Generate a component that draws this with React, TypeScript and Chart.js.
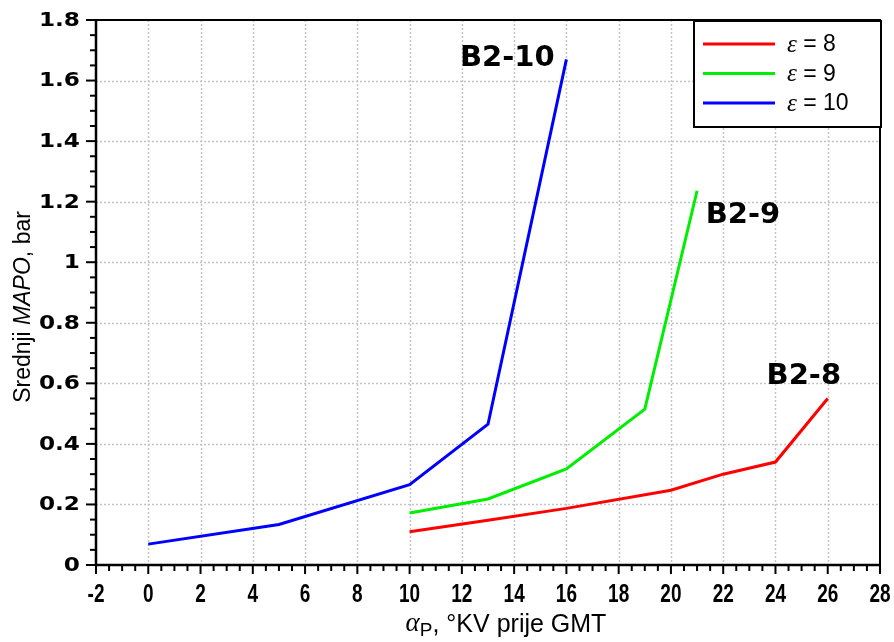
import React, { useEffect, useRef } from "react";
import { Chart, registerables } from "chart.js";

Chart.register(...registerables);

// ---- data ----
const eps8X = [10, 13, 16, 20, 22, 24, 26];
const eps8Y = [0.11, 0.148, 0.187, 0.247, 0.3, 0.34, 0.55];
const eps9X = [10, 13, 16, 19, 21];
const eps9Y = [0.172, 0.218, 0.317, 0.515, 1.236];
const eps10X = [0, 5, 10, 13, 16];
const eps10Y = [0.069, 0.134, 0.265, 0.465, 1.67];

const seriesLabels = ["8", "9", "10"];
const seriesColors = ["#ff0000", "#00ee00", "#0000ff"];

const xTickMin = -2;
const xTickMax = 28;
const xTickStep = 2;
const yTickMin = 0;
const yTickMax = 1.8;
const yTickStep = 0.2;

const curveNames = ["B2-8", "B2-9", "B2-10"];
const curveNameX = [23.66, 21.33, 15.55];
const curveNameY = [0.624, 1.153, 1.674];
const curveNameAlign = ["left", "left", "right"];

const xTitleMain = "α";
const xTitleSub = "P";
const xTitleRest = ", °KV prije GMT";
const yTitleParts = ["Srednji ", "MAPO", ", bar"];

const toPts = (xs: number[], ys: number[]) => xs.map((x, i) => ({ x, y: ys[i] }));

const fmtX = (v: number) => String(Math.round(v));
const fmtY = (v: number) => String(Number(v.toFixed(1)));

const overlayPlugin = {
  id: "overlay",
  beforeDatasetsDraw(chart: any) {
    const { ctx, chartArea: a, scales } = chart;
    const xs = scales.x, ys = scales.y;
    ctx.save();
    ctx.strokeStyle = "#c4c4c4";
    ctx.lineWidth = 1.5;
    ctx.setLineDash([2, 2]);
    xs.ticks.forEach((t: any) => {
      if (t.value <= xTickMin || t.value >= xTickMax) return;
      const px = Math.round(xs.getPixelForValue(t.value)) + 0.5;
      ctx.beginPath();
      ctx.moveTo(px, a.top);
      ctx.lineTo(px, a.bottom);
      ctx.stroke();
    });
    ys.ticks.forEach((t: any) => {
      if (t.value <= yTickMin + 1e-9 || t.value >= yTickMax - 1e-9) return;
      const py = Math.round(ys.getPixelForValue(t.value)) + 0.5;
      ctx.beginPath();
      ctx.moveTo(a.left, py);
      ctx.lineTo(a.right, py);
      ctx.stroke();
    });
    ctx.restore();
  },
  afterDatasetsDraw(chart: any) {
    const { ctx, chartArea: a, scales } = chart;
    const xs = scales.x, ys = scales.y;
    ctx.save();
    ctx.setLineDash([]);
    // frame
    ctx.strokeStyle = "#000";
    ctx.lineWidth = 2;
    ctx.strokeRect(a.left, a.top, a.right - a.left, a.bottom - a.top);
    ctx.lineWidth = 2.5;
    ctx.beginPath();
    ctx.moveTo(a.left, a.top);
    ctx.lineTo(a.left, a.bottom);
    ctx.lineTo(a.right, a.bottom);
    ctx.stroke();
    // ticks x (major + 3 minor)
    ctx.lineWidth = 2;
    const xMinor = xTickStep / 4;
    for (let i = 0; i <= (xTickMax - xTickMin) / xMinor + 1e-6; i++) {
      const v = xTickMin + i * xMinor;
      const px = xs.getPixelForValue(v);
      const len = i % 4 === 0 ? 9 : 6;
      ctx.beginPath();
      ctx.moveTo(px, a.bottom);
      ctx.lineTo(px, a.bottom + len);
      ctx.stroke();
    }
    const yMinor = yTickStep / 4;
    for (let i = 0; i <= (yTickMax - yTickMin) / yMinor + 1e-6; i++) {
      const v = yTickMin + i * yMinor;
      const py = ys.getPixelForValue(v);
      const len = i % 4 === 0 ? 10 : 6;
      ctx.beginPath();
      ctx.moveTo(a.left, py);
      ctx.lineTo(a.left - len, py);
      ctx.stroke();
    }
    // x tick labels (condensed bold)
    ctx.fillStyle = "#000";
    ctx.textBaseline = "middle";
    ctx.textAlign = "center";
    ctx.font = "bold 25px 'Liberation Sans'";
    xs.ticks.forEach((t: any) => {
      const px = xs.getPixelForValue(t.value);
      ctx.save();
      ctx.translate(px, a.bottom + 30);
      ctx.scale(0.76, 1);
      ctx.fillText(fmtX(t.value), 0, 0);
      ctx.restore();
    });
    // y tick labels (wide bold)
    ctx.font = "bold 19px 'DejaVu Sans'";
    ctx.textAlign = "right";
    ys.ticks.forEach((t: any) => {
      const py = ys.getPixelForValue(t.value);
      ctx.save();
      ctx.translate(a.left - 16, py + 1);
      ctx.scale(1.22, 1);
      ctx.fillText(fmtY(t.value), 0, 0);
      ctx.restore();
    });
    // curve names
    ctx.fillStyle = "#000";
    ctx.font = "bold 29px 'DejaVu Sans'";
    ctx.textBaseline = "middle";
    curveNames.forEach((n, i) => {
      ctx.textAlign = curveNameAlign[i] as CanvasTextAlign;
      ctx.fillText(n, xs.getPixelForValue(curveNameX[i]), ys.getPixelForValue(curveNameY[i]));
    });
    // legend
    const lw = 187, lh = 106;
    const lx = a.right - lw + 1, ly = a.top + 1;
    ctx.fillStyle = "#fff";
    ctx.fillRect(lx, ly, lw, lh);
    ctx.strokeStyle = "#000";
    ctx.lineWidth = 2;
    ctx.strokeRect(lx, ly, lw, lh);
    chart.data.datasets.forEach((ds: any, i: number) => {
      const cy = ly + 23 + i * 29.5;
      ctx.strokeStyle = ds.borderColor;
      ctx.lineWidth = 3;
      ctx.beginPath();
      ctx.moveTo(lx + 9, cy);
      ctx.lineTo(lx + 81, cy);
      ctx.stroke();
      ctx.fillStyle = "#000";
      ctx.textAlign = "left";
      ctx.textBaseline = "middle";
      ctx.font = "italic 25px 'Liberation Serif'";
      ctx.fillText("ε", lx + 93, cy + 1);
      const w = ctx.measureText("ε").width;
      ctx.font = "23px 'Liberation Sans'";
      ctx.fillText(" = " + seriesLabels[i], lx + 93 + w, cy + 1);
    });
    // x title
    ctx.fillStyle = "#000";
    ctx.textBaseline = "alphabetic";
    ctx.textAlign = "left";
    const fMain = "italic 27px 'Liberation Serif'";
    const fSub = "19px 'Liberation Sans'";
    const fRest = "25px 'Liberation Sans'";
    ctx.font = fMain;
    const w1 = ctx.measureText(xTitleMain).width;
    ctx.font = fSub;
    const w2 = ctx.measureText(xTitleSub).width;
    ctx.font = fRest;
    const w3 = ctx.measureText(xTitleRest).width;
    const cx = 506;
    let tx = cx - (w1 + w2 + w3) / 2;
    const by = 632;
    ctx.font = fMain;
    ctx.fillText(xTitleMain, tx, by - 1);
    tx += w1;
    ctx.font = fSub;
    ctx.fillText(xTitleSub, tx, by + 4);
    tx += w2;
    ctx.font = fRest;
    ctx.fillText(xTitleRest, tx, by);
    // y title
    ctx.save();
    ctx.translate(30, 307);
    ctx.rotate(-Math.PI / 2);
    const fonts = ["23px 'Liberation Sans'", "italic 23px 'Liberation Sans'", "23px 'Liberation Sans'"];
    const widths = yTitleParts.map((p, i) => {
      ctx.font = fonts[i];
      return ctx.measureText(p).width;
    });
    let yx = -widths.reduce((s, v) => s + v, 0) / 2;
    yTitleParts.forEach((p, i) => {
      ctx.font = fonts[i];
      ctx.fillText(p, yx, 0);
      yx += widths[i];
    });
    ctx.restore();
    ctx.restore();
  },
};

const zeroPad = (s: any) => {
  s.paddingLeft = 0;
  s.paddingRight = 0;
  s.paddingTop = 0;
  s.paddingBottom = 0;
};

export default function App() {
  const ref = useRef<HTMLCanvasElement>(null);
  useEffect(() => {
    document.body.style.margin = "0";
    const chart = new Chart(ref.current!, {
      type: "line",
      data: {
        datasets: [
          { label: "ε = 8", data: toPts(eps8X, eps8Y), borderColor: seriesColors[0] },
          { label: "ε = 9", data: toPts(eps9X, eps9Y), borderColor: seriesColors[1] },
          { label: "ε = 10", data: toPts(eps10X, eps10Y), borderColor: seriesColors[2] },
        ].map((d) => ({ ...d, borderWidth: 3, pointRadius: 0, fill: false, tension: 0, borderCapStyle: "butt" as const })),
      },
      options: {
        animation: false,
        responsive: false,
        devicePixelRatio: 1,
        layout: { padding: { left: 0, top: 20, right: 14, bottom: 0 } },
        plugins: { legend: { display: false }, tooltip: { enabled: false } },
        scales: {
          x: {
            type: "linear",
            min: xTickMin,
            max: xTickMax,
            grid: { display: false, drawTicks: false },
            border: { display: false },
            ticks: { stepSize: xTickStep, display: false },
            afterFit: (s: any) => { s.height = 77; zeroPad(s); },
          },
          y: {
            type: "linear",
            min: yTickMin,
            max: yTickMax,
            grid: { display: false, drawTicks: false },
            border: { display: false },
            ticks: { stepSize: yTickStep, display: false },
            afterFit: (s: any) => { s.width = 96; zeroPad(s); },
          },
        },
      },
      plugins: [overlayPlugin],
    });
    return () => chart.destroy();
  }, []);
  return (
    <div style={{ position: "absolute", left: 0, top: 0, width: 894, height: 642, background: "#fff" }}>
      <canvas ref={ref} width={894} height={642} />
    </div>
  );
}
